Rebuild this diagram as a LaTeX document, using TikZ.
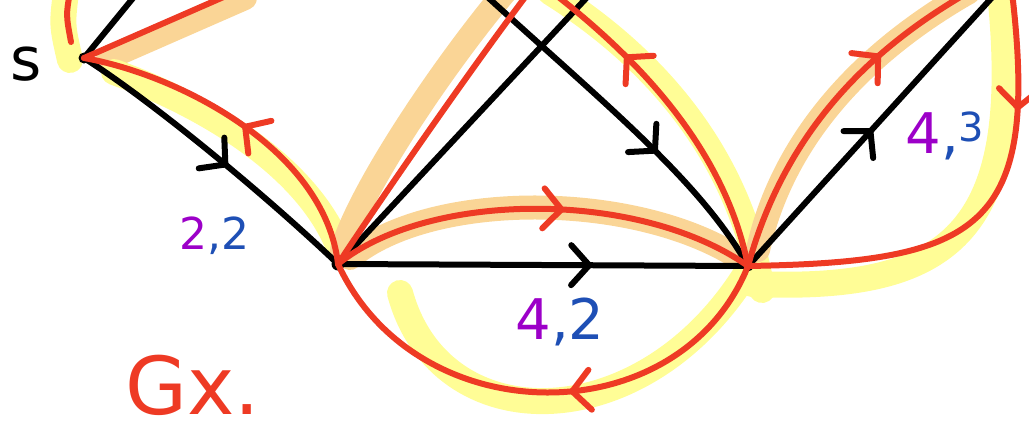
\documentclass[tikz,border=0pt]{standalone}
\usepackage{fontspec}
\setmainfont{DejaVu Sans}
\usetikzlibrary{arrows.meta,decorations.markings}
\definecolor{gxRed}{HTML}{EE3A24}
\definecolor{gxYellow}{HTML}{FFFD96}
\definecolor{gxOrange}{HTML}{FAD596}
\definecolor{gxPurple}{HTML}{9C00C8}
\definecolor{gxBlue}{HTML}{1E4FB5}
\tikzset{
  gx-edge/.style={draw, color=black, line width=6pt,
    line cap=round, line join=round},
  gx-walk/.style={draw, color=gxRed, line width=6pt,
    line cap=round, line join=round},
  gx-hlY/.style={draw, color=gxYellow, line width=26pt, line cap=round},
  gx-hlO/.style={draw, color=gxOrange, line width=24pt, line cap=round},
  gx-arr/.style={postaction={decorate}, decoration={markings,
    mark=at position #1 with {\arrow{Straight Barb[length=18pt,width=40pt,round]}}}},
  gx-lab/.style={inner sep=0pt, font=\fontsize{44}{48}\selectfont},
  gx-dot/.style={fill=black}
}

\begin{document}
\begin{tikzpicture}[x=1pt,y=-1pt]
\useasboundingbox (0,0) rectangle (1029,432);
\clip (0,0) rectangle (1029,432);

% Vertices
\coordinate (s) at (84,58);
\coordinate (u) at (338,264);
\coordinate (v) at (748,266);

% Ends leaving the sheet
\coordinate (sIn) at (70,-8);
\coordinate (sStop) at (71,42);
\coordinate (sTop) at (138,-8);
\coordinate (sOut) at (235,-8);
\coordinate (uTop) at (592,-8);
\coordinate (uOut) at (529,-8);
\coordinate (wTop) at (482,-8);
\coordinate (vIn) at (552,-8);
\coordinate (vTop) at (997,-8);
\coordinate (vOut) at (969,-8);
\coordinate (loopTop) at (1012,-8);

% Highlights
\draw[gx-hlY] (66,-8) .. controls (62,25) .. (70,60);
\draw[gx-hlO] (108,58) -- (245,-2);
\draw[gx-hlY] (114,72) .. controls (205,105) and (305,165) .. (338,245);
\draw[gx-hlO] (342,250) .. controls (360,190) and (440,70) .. (505,-8);
\draw[gx-hlY] (762,290) .. controls (738,150) and (650,55) .. (550,-8);
\draw[gx-hlO] (350,258) .. controls (430,190) and (640,190) .. (745,262);
\draw[gx-hlY] (400,293) .. controls (440,440) and (640,440) .. (745,275);
\draw[gx-hlO] (758,250) .. controls (780,150) and (850,60) .. (969,-8);
\draw[gx-hlY] (1000,-8) .. controls (1025,235) and (950,292) .. (752,284);

% Graph edges
\draw[gx-edge] (s) -- (sTop);
\draw[gx-edge, gx-arr=0.55] (s) .. controls (150,100) and (260,190) .. (u);
\draw[gx-edge] (u) -- (uTop);
\draw[gx-edge, gx-arr=0.62] (wTop) .. controls (600,100) and (700,180) .. (v);
\draw[gx-edge, gx-arr=0.62] (u) -- (v);
\draw[gx-edge, gx-arr=0.5] (v) -- (vTop);
\fill[gx-dot] (s) circle (5.5);
\fill[gx-dot] (u) circle (6.5);
\fill[gx-dot] (v) circle (5.5);

% Walk
\draw[gx-walk] (sIn) .. controls (66,15) .. (sStop);
\draw[gx-walk] (s) -- (sOut);
\draw[gx-walk, gx-arr=0.5] (u) .. controls (325,150) and (180,75) .. (s);
\draw[gx-walk] (u) .. controls (380,200) and (470,70) .. (uOut);
\draw[gx-walk, gx-arr=0.55] (u) .. controls (430,190) and (640,190) .. (v);
\draw[gx-walk, gx-arr=0.45] (v) .. controls (680,435) and (417,435) .. (u);
\draw[gx-walk, gx-arr=0.72] (v) .. controls (725,150) and (640,60) .. (vIn);
\draw[gx-walk, gx-arr=0.7] (v) .. controls (780,150) and (850,60) .. (vOut);
\draw[gx-walk, gx-arr=0.25] (loopTop) .. controls (1040,230) and (980,262) .. (v);

% Labels
\node[gx-lab, font=\fontsize{60}{64}\selectfont] (lblS) at (26,64) {s};
\node[gx-lab] (w22) at (214,236) {\color{gxPurple}2\color{gxBlue},2};
\node[gx-lab, font=\fontsize{56}{60}\selectfont] (w42) at (560,322)
  {\color{gxPurple}4\color{gxBlue},2};
\node[gx-lab, font=\fontsize{56}{60}\selectfont] (w43) at (945,136)
  {\color{gxPurple}4\color{gxBlue},\raisebox{12pt}{\fontsize{40}{44}\selectfont 3}};
\node[gx-lab, text=gxRed, font=\fontsize{80}{84}\selectfont] (title) at (193,385) {Gx.};
\end{tikzpicture}
\end{document}
